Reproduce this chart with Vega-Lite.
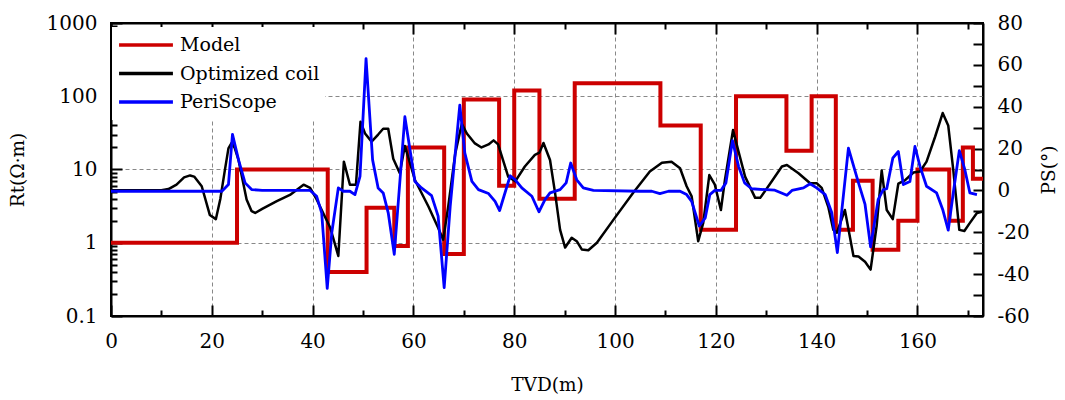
{
  "$schema": "https://vega.github.io/schema/vega-lite/v6.json",
  "autosize": "none",
  "width": 872,
  "height": 293,
  "padding": {"left": 111, "top": 23, "right": 82, "bottom": 84},
  "background": "white",
  "config": {
    "font": "DejaVu Serif",
    "view": {"stroke": "black", "strokeWidth": 2},
    "axis": {
      "labelFont": "DejaVu Serif",
      "titleFont": "DejaVu Serif",
      "labelFontSize": 20,
      "titleFontSize": 18.5,
      "titleFontWeight": "normal",
      "labelColor": "black",
      "titleColor": "black",
      "domainColor": "black",
      "domainWidth": 2,
      "tickColor": "black",
      "tickWidth": 2,
      "gridColor": "#888888",
      "gridDash": [4, 3],
      "gridWidth": 1,
      "labelOverlap": false,
      "labelBound": false,
      "labelFlush": false
    },
    "legend": {
      "orient": "none",
      "legendX": 1,
      "legendY": 4,
      "fillColor": "white",
      "padding": 5,
      "symbolType": "stroke",
      "symbolSize": 2900,
      "symbolStrokeWidth": 3.5,
      "labelFont": "DejaVu Serif",
      "labelFontSize": 19,
      "labelColor": "black",
      "labelOffset": 5,
      "clipHeight": 26,
      "rowPadding": 2.5,
      "title": null
    }
  },
  "datasets": {
    "model": [
      {"series": "Model", "tvd": 0, "rt": 1},
      {"series": "Model", "tvd": 25, "rt": 10},
      {"series": "Model", "tvd": 43, "rt": 0.4},
      {"series": "Model", "tvd": 50.7, "rt": 3},
      {"series": "Model", "tvd": 56.2, "rt": 0.9},
      {"series": "Model", "tvd": 58.9, "rt": 20},
      {"series": "Model", "tvd": 66.1, "rt": 0.7},
      {"series": "Model", "tvd": 70, "rt": 90},
      {"series": "Model", "tvd": 77, "rt": 6},
      {"series": "Model", "tvd": 80, "rt": 120},
      {"series": "Model", "tvd": 85, "rt": 4},
      {"series": "Model", "tvd": 92, "rt": 150},
      {"series": "Model", "tvd": 109, "rt": 40},
      {"series": "Model", "tvd": 117, "rt": 1.5},
      {"series": "Model", "tvd": 124, "rt": 100},
      {"series": "Model", "tvd": 134, "rt": 18},
      {"series": "Model", "tvd": 139, "rt": 100},
      {"series": "Model", "tvd": 143.8, "rt": 1.5},
      {"series": "Model", "tvd": 147.2, "rt": 7},
      {"series": "Model", "tvd": 151.1, "rt": 0.8},
      {"series": "Model", "tvd": 156.2, "rt": 2},
      {"series": "Model", "tvd": 160, "rt": 10},
      {"series": "Model", "tvd": 166.3, "rt": 2},
      {"series": "Model", "tvd": 169, "rt": 20},
      {"series": "Model", "tvd": 171, "rt": 7.5},
      {"series": "Model", "tvd": 173, "rt": 7.5}
    ],
    "coil": [
      {"series": "Optimized coil", "tvd": 0, "rt": 5.2},
      {"series": "Optimized coil", "tvd": 5, "rt": 5.2},
      {"series": "Optimized coil", "tvd": 10, "rt": 5.2},
      {"series": "Optimized coil", "tvd": 11.4, "rt": 5.4},
      {"series": "Optimized coil", "tvd": 13, "rt": 6.2},
      {"series": "Optimized coil", "tvd": 14.5, "rt": 7.8},
      {"series": "Optimized coil", "tvd": 15.7, "rt": 8.3},
      {"series": "Optimized coil", "tvd": 16.5, "rt": 8},
      {"series": "Optimized coil", "tvd": 18, "rt": 5.9},
      {"series": "Optimized coil", "tvd": 19.6, "rt": 2.4},
      {"series": "Optimized coil", "tvd": 20.8, "rt": 2.1},
      {"series": "Optimized coil", "tvd": 21.7, "rt": 4},
      {"series": "Optimized coil", "tvd": 22.6, "rt": 9.9},
      {"series": "Optimized coil", "tvd": 23.3, "rt": 19.4},
      {"series": "Optimized coil", "tvd": 23.9, "rt": 23},
      {"series": "Optimized coil", "tvd": 24.5, "rt": 20},
      {"series": "Optimized coil", "tvd": 25.3, "rt": 13.5},
      {"series": "Optimized coil", "tvd": 26.9, "rt": 3.9},
      {"series": "Optimized coil", "tvd": 27.9, "rt": 2.7},
      {"series": "Optimized coil", "tvd": 28.6, "rt": 2.55},
      {"series": "Optimized coil", "tvd": 30, "rt": 2.9},
      {"series": "Optimized coil", "tvd": 32.9, "rt": 3.7},
      {"series": "Optimized coil", "tvd": 35.5, "rt": 4.5},
      {"series": "Optimized coil", "tvd": 38.2, "rt": 6.2},
      {"series": "Optimized coil", "tvd": 39.5, "rt": 5.6},
      {"series": "Optimized coil", "tvd": 40.8, "rt": 3.9},
      {"series": "Optimized coil", "tvd": 43.5, "rt": 1.6},
      {"series": "Optimized coil", "tvd": 45.1, "rt": 0.66},
      {"series": "Optimized coil", "tvd": 46.2, "rt": 12.8},
      {"series": "Optimized coil", "tvd": 47.4, "rt": 6.2},
      {"series": "Optimized coil", "tvd": 48.6, "rt": 6.2},
      {"series": "Optimized coil", "tvd": 49.5, "rt": 45},
      {"series": "Optimized coil", "tvd": 50.4, "rt": 31},
      {"series": "Optimized coil", "tvd": 51.7, "rt": 24},
      {"series": "Optimized coil", "tvd": 53, "rt": 30},
      {"series": "Optimized coil", "tvd": 54, "rt": 36},
      {"series": "Optimized coil", "tvd": 55, "rt": 36},
      {"series": "Optimized coil", "tvd": 56, "rt": 14},
      {"series": "Optimized coil", "tvd": 57.3, "rt": 8.9},
      {"series": "Optimized coil", "tvd": 58.3, "rt": 21},
      {"series": "Optimized coil", "tvd": 60.3, "rt": 7.2},
      {"series": "Optimized coil", "tvd": 63, "rt": 3.1},
      {"series": "Optimized coil", "tvd": 64.9, "rt": 1.6},
      {"series": "Optimized coil", "tvd": 65.9, "rt": 1.1},
      {"series": "Optimized coil", "tvd": 66.9, "rt": 3.1},
      {"series": "Optimized coil", "tvd": 68.3, "rt": 16.6},
      {"series": "Optimized coil", "tvd": 69.6, "rt": 42},
      {"series": "Optimized coil", "tvd": 70.6, "rt": 31},
      {"series": "Optimized coil", "tvd": 72.2, "rt": 22.7},
      {"series": "Optimized coil", "tvd": 73.5, "rt": 20},
      {"series": "Optimized coil", "tvd": 74.9, "rt": 22},
      {"series": "Optimized coil", "tvd": 75.9, "rt": 25},
      {"series": "Optimized coil", "tvd": 76.8, "rt": 22},
      {"series": "Optimized coil", "tvd": 78.8, "rt": 8},
      {"series": "Optimized coil", "tvd": 80.2, "rt": 6.9},
      {"series": "Optimized coil", "tvd": 82.1, "rt": 11},
      {"series": "Optimized coil", "tvd": 84.1, "rt": 15.8},
      {"series": "Optimized coil", "tvd": 85, "rt": 17},
      {"series": "Optimized coil", "tvd": 85.8, "rt": 23},
      {"series": "Optimized coil", "tvd": 87.1, "rt": 13.5},
      {"series": "Optimized coil", "tvd": 88.1, "rt": 4.8},
      {"series": "Optimized coil", "tvd": 89.1, "rt": 1.5},
      {"series": "Optimized coil", "tvd": 90.1, "rt": 0.86},
      {"series": "Optimized coil", "tvd": 91.4, "rt": 1.17},
      {"series": "Optimized coil", "tvd": 92.4, "rt": 1.05},
      {"series": "Optimized coil", "tvd": 93.4, "rt": 0.81},
      {"series": "Optimized coil", "tvd": 94.7, "rt": 0.79},
      {"series": "Optimized coil", "tvd": 96.4, "rt": 1.0},
      {"series": "Optimized coil", "tvd": 99.7, "rt": 2.07},
      {"series": "Optimized coil", "tvd": 103.6, "rt": 4.8},
      {"series": "Optimized coil", "tvd": 106.9, "rt": 9.4},
      {"series": "Optimized coil", "tvd": 109.3, "rt": 12.4},
      {"series": "Optimized coil", "tvd": 111.2, "rt": 12.8},
      {"series": "Optimized coil", "tvd": 112.9, "rt": 10.4},
      {"series": "Optimized coil", "tvd": 114.2, "rt": 5.9},
      {"series": "Optimized coil", "tvd": 115.2, "rt": 4.3},
      {"series": "Optimized coil", "tvd": 116.5, "rt": 1.05},
      {"series": "Optimized coil", "tvd": 117.5, "rt": 1.87},
      {"series": "Optimized coil", "tvd": 118.7, "rt": 8.4},
      {"series": "Optimized coil", "tvd": 119.8, "rt": 6.2},
      {"series": "Optimized coil", "tvd": 121, "rt": 2.8},
      {"series": "Optimized coil", "tvd": 121.8, "rt": 7.2},
      {"series": "Optimized coil", "tvd": 123.4, "rt": 34.5},
      {"series": "Optimized coil", "tvd": 124.5, "rt": 17.6},
      {"series": "Optimized coil", "tvd": 125.8, "rt": 8},
      {"series": "Optimized coil", "tvd": 127.8, "rt": 4.1},
      {"series": "Optimized coil", "tvd": 128.8, "rt": 4.1},
      {"series": "Optimized coil", "tvd": 131.1, "rt": 6.9},
      {"series": "Optimized coil", "tvd": 133.1, "rt": 11},
      {"series": "Optimized coil", "tvd": 134.1, "rt": 11.5},
      {"series": "Optimized coil", "tvd": 136.4, "rt": 8.9},
      {"series": "Optimized coil", "tvd": 138.7, "rt": 6.5},
      {"series": "Optimized coil", "tvd": 140, "rt": 6.5},
      {"series": "Optimized coil", "tvd": 141, "rt": 5.6},
      {"series": "Optimized coil", "tvd": 142.3, "rt": 3.1},
      {"series": "Optimized coil", "tvd": 143.3, "rt": 1.5},
      {"series": "Optimized coil", "tvd": 144, "rt": 1.37},
      {"series": "Optimized coil", "tvd": 145.6, "rt": 2.8},
      {"series": "Optimized coil", "tvd": 147.3, "rt": 0.66},
      {"series": "Optimized coil", "tvd": 148.3, "rt": 0.65},
      {"series": "Optimized coil", "tvd": 149.6, "rt": 0.55},
      {"series": "Optimized coil", "tvd": 150.7, "rt": 0.43},
      {"series": "Optimized coil", "tvd": 151.9, "rt": 1.7},
      {"series": "Optimized coil", "tvd": 152.9, "rt": 9.7},
      {"series": "Optimized coil", "tvd": 153.9, "rt": 2.8},
      {"series": "Optimized coil", "tvd": 155.1, "rt": 2.1},
      {"series": "Optimized coil", "tvd": 156.2, "rt": 6.4},
      {"series": "Optimized coil", "tvd": 157.5, "rt": 7.1},
      {"series": "Optimized coil", "tvd": 159.2, "rt": 9.1},
      {"series": "Optimized coil", "tvd": 160.5, "rt": 9.4},
      {"series": "Optimized coil", "tvd": 161.8, "rt": 12.8},
      {"series": "Optimized coil", "tvd": 163.5, "rt": 28},
      {"series": "Optimized coil", "tvd": 165, "rt": 59},
      {"series": "Optimized coil", "tvd": 166.1, "rt": 40},
      {"series": "Optimized coil", "tvd": 167.1, "rt": 9.9},
      {"series": "Optimized coil", "tvd": 168.3, "rt": 1.5},
      {"series": "Optimized coil", "tvd": 169.3, "rt": 1.45},
      {"series": "Optimized coil", "tvd": 170.4, "rt": 1.87},
      {"series": "Optimized coil", "tvd": 171.8, "rt": 2.55},
      {"series": "Optimized coil", "tvd": 172.8, "rt": 2.65}
    ],
    "peri": [
      {"series": "PeriScope", "tvd": 0, "ps": -0.4},
      {"series": "PeriScope", "tvd": 10, "ps": -0.4},
      {"series": "PeriScope", "tvd": 22, "ps": -0.4},
      {"series": "PeriScope", "tvd": 23.3, "ps": 2.8},
      {"series": "PeriScope", "tvd": 24.1, "ps": 26.8},
      {"series": "PeriScope", "tvd": 25.3, "ps": 14.6},
      {"series": "PeriScope", "tvd": 26.6, "ps": 3.6},
      {"series": "PeriScope", "tvd": 27.9, "ps": 0.4},
      {"series": "PeriScope", "tvd": 30, "ps": 0},
      {"series": "PeriScope", "tvd": 39.5, "ps": 0},
      {"series": "PeriScope", "tvd": 40.8, "ps": -2.8},
      {"series": "PeriScope", "tvd": 41.8, "ps": -10.7},
      {"series": "PeriScope", "tvd": 42.9, "ps": -46.8},
      {"series": "PeriScope", "tvd": 43.8, "ps": -20.2},
      {"series": "PeriScope", "tvd": 45.1, "ps": 1.2},
      {"series": "PeriScope", "tvd": 46.1, "ps": -0.4},
      {"series": "PeriScope", "tvd": 47.4, "ps": -0.4},
      {"series": "PeriScope", "tvd": 48.4, "ps": -2},
      {"series": "PeriScope", "tvd": 49.4, "ps": 6.7},
      {"series": "PeriScope", "tvd": 50.6, "ps": 63},
      {"series": "PeriScope", "tvd": 51.9, "ps": 14.6},
      {"series": "PeriScope", "tvd": 53, "ps": 1.2},
      {"series": "PeriScope", "tvd": 54, "ps": -1.2},
      {"series": "PeriScope", "tvd": 55, "ps": -10.7},
      {"series": "PeriScope", "tvd": 56.2, "ps": -30.5},
      {"series": "PeriScope", "tvd": 58.3, "ps": 35.2},
      {"series": "PeriScope", "tvd": 60.3, "ps": 4.3},
      {"series": "PeriScope", "tvd": 61.6, "ps": 1.2},
      {"series": "PeriScope", "tvd": 63.6, "ps": -2.5},
      {"series": "PeriScope", "tvd": 64.9, "ps": -12.3},
      {"series": "PeriScope", "tvd": 66.1, "ps": -46.4},
      {"series": "PeriScope", "tvd": 67.3, "ps": -7.5},
      {"series": "PeriScope", "tvd": 69.2, "ps": 40.8},
      {"series": "PeriScope", "tvd": 70.2, "ps": 17.8},
      {"series": "PeriScope", "tvd": 71.6, "ps": 4.3},
      {"series": "PeriScope", "tvd": 72.9, "ps": 0.4},
      {"series": "PeriScope", "tvd": 74.9, "ps": -1.5},
      {"series": "PeriScope", "tvd": 76.2, "ps": -5.2},
      {"series": "PeriScope", "tvd": 77.1, "ps": -9.6},
      {"series": "PeriScope", "tvd": 79.2, "ps": 7.0},
      {"series": "PeriScope", "tvd": 80.2, "ps": 5.1},
      {"series": "PeriScope", "tvd": 81.5, "ps": 1.2},
      {"series": "PeriScope", "tvd": 83.5, "ps": -2.8},
      {"series": "PeriScope", "tvd": 84.9, "ps": -10.2},
      {"series": "PeriScope", "tvd": 86.1, "ps": -4.4},
      {"series": "PeriScope", "tvd": 87.1, "ps": -1.2},
      {"series": "PeriScope", "tvd": 89.1, "ps": 0.4},
      {"series": "PeriScope", "tvd": 90.3, "ps": 3.6},
      {"series": "PeriScope", "tvd": 91.2, "ps": 13.1},
      {"series": "PeriScope", "tvd": 92.4, "ps": 5.1},
      {"series": "PeriScope", "tvd": 93.7, "ps": 1.2},
      {"series": "PeriScope", "tvd": 95.7, "ps": 0},
      {"series": "PeriScope", "tvd": 105, "ps": -0.4},
      {"series": "PeriScope", "tvd": 107.3, "ps": -0.4},
      {"series": "PeriScope", "tvd": 108.9, "ps": -1.5},
      {"series": "PeriScope", "tvd": 110.6, "ps": -0.4},
      {"series": "PeriScope", "tvd": 112.9, "ps": -0.4},
      {"series": "PeriScope", "tvd": 114.2, "ps": -2},
      {"series": "PeriScope", "tvd": 115.2, "ps": -5.2},
      {"series": "PeriScope", "tvd": 116.7, "ps": -17},
      {"series": "PeriScope", "tvd": 117.9, "ps": -13.1},
      {"series": "PeriScope", "tvd": 118.8, "ps": -2},
      {"series": "PeriScope", "tvd": 119.8, "ps": 0},
      {"series": "PeriScope", "tvd": 121, "ps": 0},
      {"series": "PeriScope", "tvd": 122, "ps": 3.6},
      {"series": "PeriScope", "tvd": 123.3, "ps": 23.8},
      {"series": "PeriScope", "tvd": 124.5, "ps": 11.5},
      {"series": "PeriScope", "tvd": 125.7, "ps": 3.6},
      {"series": "PeriScope", "tvd": 127.1, "ps": 0.8},
      {"series": "PeriScope", "tvd": 131.7, "ps": 0.1},
      {"series": "PeriScope", "tvd": 134.1, "ps": -2.3},
      {"series": "PeriScope", "tvd": 135.1, "ps": 0},
      {"series": "PeriScope", "tvd": 137.4, "ps": 1.2},
      {"series": "PeriScope", "tvd": 138.7, "ps": 3.2},
      {"series": "PeriScope", "tvd": 140, "ps": 1.2},
      {"series": "PeriScope", "tvd": 141.7, "ps": -2},
      {"series": "PeriScope", "tvd": 143, "ps": -10.7},
      {"series": "PeriScope", "tvd": 144.1, "ps": -29.7},
      {"series": "PeriScope", "tvd": 146.3, "ps": 20.2},
      {"series": "PeriScope", "tvd": 148.3, "ps": 3.6},
      {"series": "PeriScope", "tvd": 149.6, "ps": -6.7},
      {"series": "PeriScope", "tvd": 150.7, "ps": -27},
      {"series": "PeriScope", "tvd": 152.2, "ps": -4.4},
      {"series": "PeriScope", "tvd": 153.2, "ps": 0.4},
      {"series": "PeriScope", "tvd": 153.9, "ps": 0.8},
      {"series": "PeriScope", "tvd": 155.1, "ps": 15.4},
      {"series": "PeriScope", "tvd": 156.2, "ps": 18.6},
      {"series": "PeriScope", "tvd": 157.2, "ps": 2.8},
      {"series": "PeriScope", "tvd": 158.5, "ps": 4.3},
      {"series": "PeriScope", "tvd": 159.5, "ps": 21},
      {"series": "PeriScope", "tvd": 160.5, "ps": 11.5},
      {"series": "PeriScope", "tvd": 161.8, "ps": 2},
      {"series": "PeriScope", "tvd": 163.8, "ps": -1.2},
      {"series": "PeriScope", "tvd": 165, "ps": -9.1},
      {"series": "PeriScope", "tvd": 166.1, "ps": -19},
      {"series": "PeriScope", "tvd": 167.1, "ps": -1.2},
      {"series": "PeriScope", "tvd": 168.3, "ps": 19},
      {"series": "PeriScope", "tvd": 169.4, "ps": 9.9},
      {"series": "PeriScope", "tvd": 170.4, "ps": -1.2},
      {"series": "PeriScope", "tvd": 171.8, "ps": -2}
    ]
  },
  "layer": [
    {
      "data": {"name": "model"},
      "mark": {"type": "line", "interpolate": "step-after", "strokeJoin": "miter", "strokeCap": "butt", "strokeWidth": 4},
      "encoding": {
        "x": {
          "field": "tvd", "type": "quantitative",
          "scale": {"domain": [0, 173], "nice": false, "zero": false},
          "axis": {
            "orient": "bottom",
            "title": "TVD(m)",
            "values": [0, 10, 20, 30, 40, 50, 60, 70, 80, 90, 100, 110, 120, 130, 140, 150, 160, 170],
            "labelExpr": "datum.value % 20 == 0 ? datum.label : ''",
            "tickSize": {"condition": {"test": "datum.value % 20 == 0", "value": -11}, "value": -6},
            "labelPadding": 26,
            "grid": true,
            "gridOpacity": {"condition": {"test": "datum.value % 20 == 0 && datum.value > 0", "value": 1}, "value": 0},
            "titlePadding": 19
          }
        },
        "y": {
          "field": "rt", "type": "quantitative",
          "scale": {"type": "log", "domain": [0.1, 1000], "nice": false},
          "axis": {
            "orient": "left",
            "title": "Rt(Ω·m)",
            "values": [0.1, 0.2, 0.3, 0.4, 0.5, 0.6, 0.7, 0.8, 0.9, 1, 2, 3, 4, 5, 6, 7, 8, 9, 10, 20, 30, 40, 50, 60, 70, 80, 90, 100, 200, 300, 400, 500, 600, 700, 800, 900, 1000],
            "format": "~g",
            "labelExpr": "indexof([0.1, 1, 10, 100, 1000], datum.value) >= 0 ? datum.label : ''",
            "tickSize": {"condition": {"test": "indexof([0.1, 1, 10, 100, 1000], datum.value) >= 0", "value": -11}, "value": -6},
            "labelPadding": 25,
            "grid": true,
            "gridOpacity": {"condition": {"test": "indexof([1, 10, 100], datum.value) >= 0", "value": 1}, "value": 0},
            "titlePadding": 19
          }
        },
        "color": {
          "field": "series", "type": "nominal",
          "scale": {"domain": ["Model", "Optimized coil", "PeriScope"], "range": ["#cc0000", "#000000", "#0000ff"]}
        }
      }
    },
    {
      "data": {"name": "coil"},
      "mark": {"type": "line", "strokeJoin": "round", "strokeWidth": 2.5},
      "encoding": {
        "x": {
          "field": "tvd", "type": "quantitative",
          "scale": {"domain": [0, 173], "nice": false, "zero": false},
          "axis": {
            "orient": "top",
            "title": null,
            "values": [0, 10, 20, 30, 40, 50, 60, 70, 80, 90, 100, 110, 120, 130, 140, 150, 160, 170],
            "labels": false,
            "tickSize": {"condition": {"test": "datum.value % 20 == 0", "value": -11}, "value": -6},
            "grid": false
          }
        },
        "y": {
          "field": "rt", "type": "quantitative",
          "scale": {"type": "log", "domain": [0.1, 1000], "nice": false},
          "axis": null
        },
        "color": {"field": "series", "type": "nominal"}
      }
    },
    {
      "data": {"name": "peri"},
      "mark": {"type": "line", "strokeJoin": "round", "strokeWidth": 2.8},
      "encoding": {
        "x": {
          "field": "tvd", "type": "quantitative",
          "scale": {"domain": [0, 173], "nice": false, "zero": false},
          "axis": null
        },
        "y": {
          "field": "ps", "type": "quantitative",
          "scale": {"domain": [-60, 80], "nice": false, "zero": false},
          "axis": {
            "orient": "right",
            "title": "PS(°)",
            "titleAngle": 270,
            "values": [-60, -50, -40, -30, -20, -10, 0, 10, 20, 30, 40, 50, 60, 70, 80],
            "labelExpr": "datum.value % 20 == 0 ? '' + datum.value : ''",
            "tickSize": -10,
            "labelPadding": 24,
            "grid": false,
            "titlePadding": 29
          }
        },
        "color": {"field": "series", "type": "nominal"}
      }
    }
  ],
  "resolve": {"scale": {"y": "independent"}, "axis": {"x": "independent", "y": "independent"}}
}
